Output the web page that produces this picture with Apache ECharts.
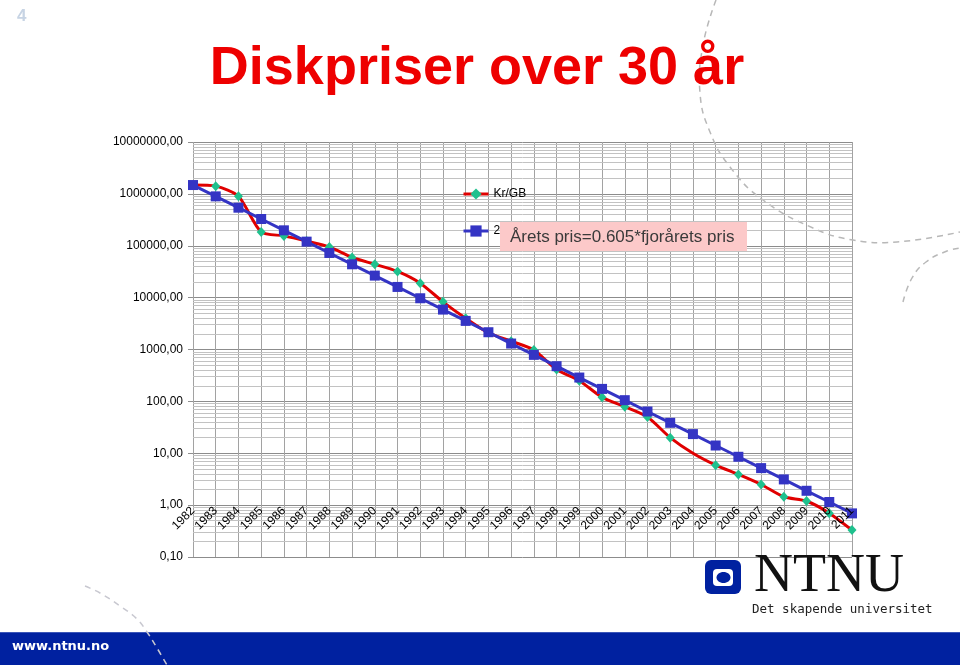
<!DOCTYPE html>
<html><head><meta charset="utf-8">
<script src="https://cdn.jsdelivr.net/npm/echarts@6/dist/echarts.min.js"></script>
<style>html,body{margin:0;padding:0;background:#fff}#c{width:960px;height:665px}</style>
</head><body><div id="c"></div>
<script>
// ---- data ----
const years = ['1982','1983','1984','1985','1986','1987','1988','1989','1990','1991','1992','1993','1994','1995','1996','1997','1998','1999','2000','2001','2002','2003','2004','2005','2006','2007','2008','2009','2010','2011'];
const krPerGB = [1480000,1410000,900000,185000,155000,123000,95000,59500,44000,32000,19000,8300,4000,2100,1450,980,410,250,120,79,50,20,10,5.9,3.9,2.5,1.45,1.2,0.7,0.33];
const modelPris = [1480000,895400,541700,327700,198300,120000,72580,43910,26570,16070,9723,5882,3559,2153,1303,788,477,288,174,105.5,63.8,38.6,23.4,14.1,8.55,5.17,3.13,1.89,1.15,0.693];
const seriesNames = ['Kr/GB','2'];
const titleText = 'Diskpriser over 30 år';
const noteText = 'Årets pris=0.605*fjorårets pris';
const yMin = 0.1, yMax = 10000000;

// minor log gridlines (2..9 x 10^k)
const minorLines = [];
for (let k = -1; k < 7; k++) {
  for (let m = 2; m <= 9; m++) minorLines.push({ yAxis: m * Math.pow(10, k) });
}

const FONT = 'Liberation Sans, Arial, sans-serif';
const chart = echarts.init(document.getElementById('c'), null, { renderer: 'canvas' });

const dash = { stroke: '#b8b8b8', lineWidth: 1.5, lineDash: [6, 5], fill: null };

chart.setOption({
  animation: false,
  backgroundColor: '#ffffff',
  grid: { left: 193, right: 108, top: 142, bottom: 108, containLabel: false },
  legend: {
    data: seriesNames,
    orient: 'vertical',
    left: 457, top: 183,
    itemWidth: 25, itemHeight: 14, itemGap: 25,
    lineStyle: { width: 3 },
    textStyle: { fontFamily: FONT, fontSize: 12, color: '#000' },
    z: 5
  },
  xAxis: [
    {
      type: 'category',
      data: years,
      boundaryGap: false,
      axisLine: { show: false },
      axisTick: { show: false },
      axisLabel: { show: false },
      splitLine: { show: true, interval: 0, lineStyle: { color: '#a2a2a2', width: 1 } }
    },
    {
      type: 'category',
      data: years,
      boundaryGap: false,
      position: 'bottom',
      offset: -52,
      z: 20,
      axisLine: { show: false },
      axisTick: { show: false },
      axisLabel: { interval: 0, rotate: 45, margin: 4, fontFamily: FONT, fontSize: 12, color: '#000' },
      splitLine: { show: false }
    }
  ],
  yAxis: {
    type: 'log',
    logBase: 10,
    min: yMin, max: yMax,
    axisLine: { show: false },
    axisTick: { show: true, length: 5, lineStyle: { color: '#909090' } },
    axisLabel: {
      fontFamily: FONT, fontSize: 12, color: '#000', margin: 10,
      formatter: v => Number(v).toFixed(2).replace('.', ',')
    },
    splitLine: { show: true, lineStyle: { color: '#8c8c8c', width: 1 } }
  },
  series: [
    {
      name: 'gridlines', type: 'line', data: years.map(() => null), z: 1,
      silent: true, showSymbol: false,
      markLine: {
        silent: true, z: 1, symbol: ['none', 'none'], label: { show: false },
        lineStyle: { color: '#c2c2c2', width: 1, type: 'solid' },
        emphasis: { disabled: true },
        data: minorLines
      }
    },
    {
      name: seriesNames[0], type: 'line', z: 3,
      data: krPerGB.map((v, i) => years[i] === '2004' ? { value: v, symbol: 'none' } : v),
      smooth: 0.25,
      symbol: 'diamond', symbolSize: [9, 10],
      lineStyle: { color: '#e00000', width: 3 },
      itemStyle: { color: '#1fc18e', borderWidth: 0 }
    },
    {
      name: seriesNames[1], type: 'line', z: 4,
      data: modelPris,
      symbol: 'rect', symbolSize: 10,
      lineStyle: { color: '#3434c4', width: 3 },
      itemStyle: { color: '#3434c4', borderWidth: 0 }
    }
  ],
  graphic: [
    // decorative dashed arcs
    { type: 'polyline', z: 1, silent: true, shape: { smooth: 0.45, points: [[716,0],[703,45],[700,93],[710,132],[730,167],[763,200],[813,228],[853,240],[897,242],[960,232]] }, style: dash },
    { type: 'polyline', z: 1, silent: true, shape: { smooth: 0.45, points: [[903,302],[912,278],[926,262],[947,251],[960,248]] }, style: dash },
    // slide number
    { type: 'text', z: 10, x: 17, y: 16, style: { text: '4', fontFamily: FONT, fontWeight: 'bold', fontSize: 17, fill: '#c7d4e4', verticalAlign: 'middle' } },
    // title
    { type: 'text', z: 10, x: 477, y: 69, style: { text: titleText, fontFamily: FONT, fontWeight: 'bold', fontSize: 54, fill: '#ee0000', align: 'center', verticalAlign: 'middle' } },
    // note box
    { type: 'rect', z: 100, shape: { x: 500, y: 222, width: 247, height: 29 }, style: { fill: '#fcc9c9' } },
    { type: 'text', z: 101, x: 510, y: 237, style: { text: noteText, fontFamily: FONT, fontSize: 17, fill: '#3a3a3a', verticalAlign: 'middle' } },
    // bottom bar
    { type: 'rect', z: 10, shape: { x: 0, y: 632, width: 960, height: 33 }, style: { fill: '#0021a0' } },
    { type: 'rect', z: 11, shape: { x: 0, y: 632, width: 960, height: 1 }, style: { fill: '#3a55b8' } },
    { type: 'text', z: 12, x: 12, y: 647, style: { text: 'www.ntnu.no', fontFamily: 'DejaVu Sans, Verdana, sans-serif', fontWeight: 'bold', fontSize: 13, fill: '#ffffff', verticalAlign: 'middle' } },
    { type: 'polyline', z: 13, silent: true, shape: { smooth: 0.4, points: [[85,586],[100,593],[120,606],[137,619],[147,632],[157,648],[167,665]] }, style: { stroke: '#c8c8d0', lineWidth: 1.5, lineDash: [6, 5], fill: null } },
    // NTNU logo
    { type: 'rect', z: 10, shape: { x: 705, y: 560, width: 36, height: 34, r: 6 }, style: { fill: '#0021a0' } },
    { type: 'rect', z: 11, shape: { x: 713, y: 569, width: 20, height: 17, r: 4 }, style: { fill: '#ffffff' } },
    { type: 'ellipse', z: 12, shape: { cx: 723.5, cy: 577.5, rx: 7, ry: 5.5 }, style: { fill: '#0021a0' } },
    { type: 'text', z: 10, x: 754, y: 577, style: { text: 'NTNU', fontFamily: 'Liberation Serif, Times New Roman, serif', fontSize: 54, fill: '#111', verticalAlign: 'middle' } },
    { type: 'text', z: 10, x: 752, y: 610, style: { text: 'Det skapende universitet', fontFamily: 'DejaVu Sans Mono, monospace', fontSize: 12.5, fill: '#222', verticalAlign: 'middle' } }
  ]
});
</script>
</body></html>
